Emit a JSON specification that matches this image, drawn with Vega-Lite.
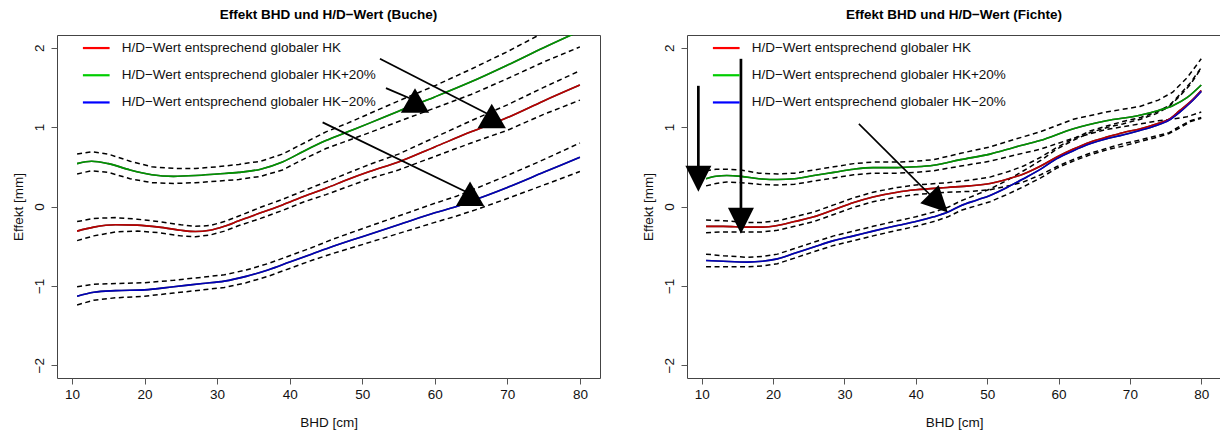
{
  "$schema": "https://vega.github.io/schema/vega-lite/v6.json",
  "padding": {"left": 10, "top": 7, "right": 0, "bottom": 0},
  "spacing": 39,
  "background": "white",
  "datasets": {
    "curves": [
      {"p":"Buche","s":"HK+20%","x":10.7,"fit":0.54,"lo":0.41,"hi":0.66},
      {"p":"Buche","s":"HK+20%","x":12.7,"fit":0.57,"lo":0.45,"hi":0.69},
      {"p":"Buche","s":"HK+20%","x":15,"fit":0.54,"lo":0.43,"hi":0.66},
      {"p":"Buche","s":"HK+20%","x":18,"fit":0.46,"lo":0.35,"hi":0.57},
      {"p":"Buche","s":"HK+20%","x":21,"fit":0.40,"lo":0.30,"hi":0.50},
      {"p":"Buche","s":"HK+20%","x":24,"fit":0.38,"lo":0.29,"hi":0.48},
      {"p":"Buche","s":"HK+20%","x":27,"fit":0.39,"lo":0.30,"hi":0.48},
      {"p":"Buche","s":"HK+20%","x":30,"fit":0.41,"lo":0.32,"hi":0.50},
      {"p":"Buche","s":"HK+20%","x":33,"fit":0.43,"lo":0.34,"hi":0.53},
      {"p":"Buche","s":"HK+20%","x":36,"fit":0.47,"lo":0.38,"hi":0.57},
      {"p":"Buche","s":"HK+20%","x":39,"fit":0.56,"lo":0.46,"hi":0.66},
      {"p":"Buche","s":"HK+20%","x":42,"fit":0.70,"lo":0.60,"hi":0.80},
      {"p":"Buche","s":"HK+20%","x":45,"fit":0.83,"lo":0.73,"hi":0.94},
      {"p":"Buche","s":"HK+20%","x":48,"fit":0.94,"lo":0.83,"hi":1.05},
      {"p":"Buche","s":"HK+20%","x":51,"fit":1.05,"lo":0.93,"hi":1.17},
      {"p":"Buche","s":"HK+20%","x":55,"fit":1.20,"lo":1.07,"hi":1.33},
      {"p":"Buche","s":"HK+20%","x":60,"fit":1.38,"lo":1.24,"hi":1.52},
      {"p":"Buche","s":"HK+20%","x":65,"fit":1.57,"lo":1.41,"hi":1.73},
      {"p":"Buche","s":"HK+20%","x":70,"fit":1.78,"lo":1.61,"hi":1.95},
      {"p":"Buche","s":"HK+20%","x":75,"fit":2.00,"lo":1.82,"hi":2.19},
      {"p":"Buche","s":"HK+20%","x":80,"fit":2.21,"lo":2.01,"hi":2.42},

      {"p":"Buche","s":"HK","x":10.7,"fit":-0.31,"lo":-0.43,"hi":-0.19},
      {"p":"Buche","s":"HK","x":13,"fit":-0.26,"lo":-0.37,"hi":-0.15},
      {"p":"Buche","s":"HK","x":16,"fit":-0.23,"lo":-0.32,"hi":-0.14},
      {"p":"Buche","s":"HK","x":19,"fit":-0.235,"lo":-0.31,"hi":-0.16},
      {"p":"Buche","s":"HK","x":22,"fit":-0.26,"lo":-0.33,"hi":-0.19},
      {"p":"Buche","s":"HK","x":25,"fit":-0.30,"lo":-0.37,"hi":-0.23},
      {"p":"Buche","s":"HK","x":27,"fit":-0.315,"lo":-0.38,"hi":-0.25},
      {"p":"Buche","s":"HK","x":29,"fit":-0.30,"lo":-0.36,"hi":-0.24},
      {"p":"Buche","s":"HK","x":31,"fit":-0.25,"lo":-0.31,"hi":-0.19},
      {"p":"Buche","s":"HK","x":33,"fit":-0.18,"lo":-0.24,"hi":-0.12},
      {"p":"Buche","s":"HK","x":36,"fit":-0.08,"lo":-0.15,"hi":-0.01},
      {"p":"Buche","s":"HK","x":39,"fit":0.02,"lo":-0.05,"hi":0.09},
      {"p":"Buche","s":"HK","x":42,"fit":0.13,"lo":0.06,"hi":0.20},
      {"p":"Buche","s":"HK","x":45,"fit":0.23,"lo":0.15,"hi":0.31},
      {"p":"Buche","s":"HK","x":48,"fit":0.34,"lo":0.25,"hi":0.42},
      {"p":"Buche","s":"HK","x":51,"fit":0.44,"lo":0.35,"hi":0.53},
      {"p":"Buche","s":"HK","x":55,"fit":0.56,"lo":0.46,"hi":0.66},
      {"p":"Buche","s":"HK","x":60,"fit":0.75,"lo":0.63,"hi":0.87},
      {"p":"Buche","s":"HK","x":65,"fit":0.94,"lo":0.80,"hi":1.08},
      {"p":"Buche","s":"HK","x":70,"fit":1.12,"lo":0.96,"hi":1.28},
      {"p":"Buche","s":"HK","x":75,"fit":1.33,"lo":1.16,"hi":1.50},
      {"p":"Buche","s":"HK","x":80,"fit":1.53,"lo":1.34,"hi":1.71},

      {"p":"Buche","s":"HK−20%","x":10.7,"fit":-1.13,"lo":-1.24,"hi":-1.01},
      {"p":"Buche","s":"HK−20%","x":13,"fit":-1.08,"lo":-1.18,"hi":-0.98},
      {"p":"Buche","s":"HK−20%","x":16,"fit":-1.06,"lo":-1.15,"hi":-0.97},
      {"p":"Buche","s":"HK−20%","x":20,"fit":-1.05,"lo":-1.13,"hi":-0.96},
      {"p":"Buche","s":"HK−20%","x":24,"fit":-1.01,"lo":-1.09,"hi":-0.93},
      {"p":"Buche","s":"HK−20%","x":28,"fit":-0.97,"lo":-1.05,"hi":-0.89},
      {"p":"Buche","s":"HK−20%","x":31,"fit":-0.94,"lo":-1.02,"hi":-0.86},
      {"p":"Buche","s":"HK−20%","x":34,"fit":-0.88,"lo":-0.96,"hi":-0.80},
      {"p":"Buche","s":"HK−20%","x":37,"fit":-0.80,"lo":-0.88,"hi":-0.72},
      {"p":"Buche","s":"HK−20%","x":40,"fit":-0.70,"lo":-0.78,"hi":-0.62},
      {"p":"Buche","s":"HK−20%","x":43,"fit":-0.60,"lo":-0.68,"hi":-0.52},
      {"p":"Buche","s":"HK−20%","x":46,"fit":-0.50,"lo":-0.59,"hi":-0.41},
      {"p":"Buche","s":"HK−20%","x":50,"fit":-0.38,"lo":-0.48,"hi":-0.28},
      {"p":"Buche","s":"HK−20%","x":55,"fit":-0.23,"lo":-0.34,"hi":-0.12},
      {"p":"Buche","s":"HK−20%","x":60,"fit":-0.08,"lo":-0.20,"hi":0.04},
      {"p":"Buche","s":"HK−20%","x":63,"fit":0.00,"lo":-0.12,"hi":0.13},
      {"p":"Buche","s":"HK−20%","x":66,"fit":0.10,"lo":-0.03,"hi":0.24},
      {"p":"Buche","s":"HK−20%","x":70,"fit":0.24,"lo":0.10,"hi":0.39},
      {"p":"Buche","s":"HK−20%","x":75,"fit":0.43,"lo":0.27,"hi":0.59},
      {"p":"Buche","s":"HK−20%","x":80,"fit":0.62,"lo":0.44,"hi":0.80},

      {"p":"Fichte","s":"HK+20%","x":10.6,"fit":0.35,"lo":0.26,"hi":0.45},
      {"p":"Fichte","s":"HK+20%","x":12,"fit":0.38,"lo":0.29,"hi":0.47},
      {"p":"Fichte","s":"HK+20%","x":13.5,"fit":0.39,"lo":0.31,"hi":0.47},
      {"p":"Fichte","s":"HK+20%","x":15.5,"fit":0.38,"lo":0.30,"hi":0.46},
      {"p":"Fichte","s":"HK+20%","x":18,"fit":0.35,"lo":0.28,"hi":0.42},
      {"p":"Fichte","s":"HK+20%","x":20.6,"fit":0.34,"lo":0.27,"hi":0.41},
      {"p":"Fichte","s":"HK+20%","x":23,"fit":0.35,"lo":0.28,"hi":0.42},
      {"p":"Fichte","s":"HK+20%","x":25.7,"fit":0.39,"lo":0.32,"hi":0.46},
      {"p":"Fichte","s":"HK+20%","x":28.5,"fit":0.43,"lo":0.36,"hi":0.50},
      {"p":"Fichte","s":"HK+20%","x":31.3,"fit":0.47,"lo":0.40,"hi":0.54},
      {"p":"Fichte","s":"HK+20%","x":34,"fit":0.49,"lo":0.42,"hi":0.56},
      {"p":"Fichte","s":"HK+20%","x":37.4,"fit":0.49,"lo":0.42,"hi":0.56},
      {"p":"Fichte","s":"HK+20%","x":40,"fit":0.50,"lo":0.43,"hi":0.57},
      {"p":"Fichte","s":"HK+20%","x":42.5,"fit":0.52,"lo":0.45,"hi":0.59},
      {"p":"Fichte","s":"HK+20%","x":46.3,"fit":0.59,"lo":0.51,"hi":0.67},
      {"p":"Fichte","s":"HK+20%","x":50.4,"fit":0.66,"lo":0.57,"hi":0.75},
      {"p":"Fichte","s":"HK+20%","x":54,"fit":0.75,"lo":0.65,"hi":0.85},
      {"p":"Fichte","s":"HK+20%","x":57.4,"fit":0.83,"lo":0.72,"hi":0.94},
      {"p":"Fichte","s":"HK+20%","x":62.1,"fit":0.98,"lo":0.86,"hi":1.10},
      {"p":"Fichte","s":"HK+20%","x":66.7,"fit":1.08,"lo":0.97,"hi":1.19},
      {"p":"Fichte","s":"HK+20%","x":71.4,"fit":1.15,"lo":1.04,"hi":1.26},
      {"p":"Fichte","s":"HK+20%","x":74,"fit":1.21,"lo":1.08,"hi":1.34},
      {"p":"Fichte","s":"HK+20%","x":76,"fit":1.27,"lo":1.10,"hi":1.44},
      {"p":"Fichte","s":"HK+20%","x":78,"fit":1.37,"lo":1.13,"hi":1.62},
      {"p":"Fichte","s":"HK+20%","x":80,"fit":1.53,"lo":1.19,"hi":1.86},

      {"p":"Fichte","s":"HK","x":10.6,"fit":-0.25,"lo":-0.33,"hi":-0.17},
      {"p":"Fichte","s":"HK","x":13,"fit":-0.25,"lo":-0.32,"hi":-0.18},
      {"p":"Fichte","s":"HK","x":16.4,"fit":-0.26,"lo":-0.32,"hi":-0.20},
      {"p":"Fichte","s":"HK","x":18.5,"fit":-0.26,"lo":-0.32,"hi":-0.20},
      {"p":"Fichte","s":"HK","x":20.6,"fit":-0.24,"lo":-0.30,"hi":-0.18},
      {"p":"Fichte","s":"HK","x":23,"fit":-0.19,"lo":-0.25,"hi":-0.13},
      {"p":"Fichte","s":"HK","x":25.7,"fit":-0.13,"lo":-0.19,"hi":-0.07},
      {"p":"Fichte","s":"HK","x":28.5,"fit":-0.04,"lo":-0.10,"hi":0.02},
      {"p":"Fichte","s":"HK","x":31.3,"fit":0.05,"lo":-0.01,"hi":0.11},
      {"p":"Fichte","s":"HK","x":34,"fit":0.12,"lo":0.06,"hi":0.18},
      {"p":"Fichte","s":"HK","x":37.4,"fit":0.18,"lo":0.12,"hi":0.24},
      {"p":"Fichte","s":"HK","x":40,"fit":0.21,"lo":0.15,"hi":0.27},
      {"p":"Fichte","s":"HK","x":44.4,"fit":0.24,"lo":0.18,"hi":0.30},
      {"p":"Fichte","s":"HK","x":47.5,"fit":0.26,"lo":0.19,"hi":0.33},
      {"p":"Fichte","s":"HK","x":50.4,"fit":0.29,"lo":0.21,"hi":0.37},
      {"p":"Fichte","s":"HK","x":53,"fit":0.35,"lo":0.26,"hi":0.44},
      {"p":"Fichte","s":"HK","x":55.1,"fit":0.41,"lo":0.31,"hi":0.51},
      {"p":"Fichte","s":"HK","x":57.5,"fit":0.51,"lo":0.40,"hi":0.62},
      {"p":"Fichte","s":"HK","x":59.7,"fit":0.62,"lo":0.50,"hi":0.74},
      {"p":"Fichte","s":"HK","x":62,"fit":0.72,"lo":0.59,"hi":0.85},
      {"p":"Fichte","s":"HK","x":64.4,"fit":0.81,"lo":0.67,"hi":0.95},
      {"p":"Fichte","s":"HK","x":67,"fit":0.88,"lo":0.74,"hi":1.02},
      {"p":"Fichte","s":"HK","x":69,"fit":0.93,"lo":0.79,"hi":1.07},
      {"p":"Fichte","s":"HK","x":71.5,"fit":0.98,"lo":0.84,"hi":1.12},
      {"p":"Fichte","s":"HK","x":73.7,"fit":1.04,"lo":0.89,"hi":1.19},
      {"p":"Fichte","s":"HK","x":75.5,"fit":1.10,"lo":0.93,"hi":1.27},
      {"p":"Fichte","s":"HK","x":77,"fit":1.21,"lo":1.01,"hi":1.41},
      {"p":"Fichte","s":"HK","x":78.5,"fit":1.32,"lo":1.08,"hi":1.56},
      {"p":"Fichte","s":"HK","x":80,"fit":1.46,"lo":1.12,"hi":1.75},

      {"p":"Fichte","s":"HK−20%","x":10.6,"fit":-0.68,"lo":-0.76,"hi":-0.60},
      {"p":"Fichte","s":"HK−20%","x":13,"fit":-0.69,"lo":-0.76,"hi":-0.62},
      {"p":"Fichte","s":"HK−20%","x":16.4,"fit":-0.70,"lo":-0.76,"hi":-0.64},
      {"p":"Fichte","s":"HK−20%","x":18.5,"fit":-0.69,"lo":-0.75,"hi":-0.63},
      {"p":"Fichte","s":"HK−20%","x":20.6,"fit":-0.66,"lo":-0.72,"hi":-0.60},
      {"p":"Fichte","s":"HK−20%","x":23,"fit":-0.59,"lo":-0.65,"hi":-0.53},
      {"p":"Fichte","s":"HK−20%","x":25.7,"fit":-0.51,"lo":-0.57,"hi":-0.45},
      {"p":"Fichte","s":"HK−20%","x":28.5,"fit":-0.43,"lo":-0.49,"hi":-0.37},
      {"p":"Fichte","s":"HK−20%","x":31.3,"fit":-0.37,"lo":-0.43,"hi":-0.31},
      {"p":"Fichte","s":"HK−20%","x":34,"fit":-0.31,"lo":-0.37,"hi":-0.25},
      {"p":"Fichte","s":"HK−20%","x":37.4,"fit":-0.24,"lo":-0.30,"hi":-0.18},
      {"p":"Fichte","s":"HK−20%","x":40,"fit":-0.19,"lo":-0.25,"hi":-0.13},
      {"p":"Fichte","s":"HK−20%","x":42.5,"fit":-0.13,"lo":-0.19,"hi":-0.07},
      {"p":"Fichte","s":"HK−20%","x":44.5,"fit":-0.07,"lo":-0.13,"hi":-0.01},
      {"p":"Fichte","s":"HK−20%","x":46.3,"fit":0.01,"lo":-0.05,"hi":0.07},
      {"p":"Fichte","s":"HK−20%","x":48.5,"fit":0.08,"lo":0.01,"hi":0.15},
      {"p":"Fichte","s":"HK−20%","x":50.4,"fit":0.14,"lo":0.06,"hi":0.22},
      {"p":"Fichte","s":"HK−20%","x":53,"fit":0.25,"lo":0.16,"hi":0.34},
      {"p":"Fichte","s":"HK−20%","x":55.1,"fit":0.35,"lo":0.25,"hi":0.45},
      {"p":"Fichte","s":"HK−20%","x":57.5,"fit":0.47,"lo":0.36,"hi":0.58},
      {"p":"Fichte","s":"HK−20%","x":59.7,"fit":0.60,"lo":0.48,"hi":0.72},
      {"p":"Fichte","s":"HK−20%","x":62,"fit":0.70,"lo":0.57,"hi":0.83},
      {"p":"Fichte","s":"HK−20%","x":64.4,"fit":0.79,"lo":0.65,"hi":0.93},
      {"p":"Fichte","s":"HK−20%","x":67,"fit":0.86,"lo":0.72,"hi":1.00},
      {"p":"Fichte","s":"HK−20%","x":69,"fit":0.90,"lo":0.76,"hi":1.04},
      {"p":"Fichte","s":"HK−20%","x":71.5,"fit":0.96,"lo":0.82,"hi":1.10},
      {"p":"Fichte","s":"HK−20%","x":73.7,"fit":1.02,"lo":0.87,"hi":1.17},
      {"p":"Fichte","s":"HK−20%","x":75.5,"fit":1.09,"lo":0.92,"hi":1.26},
      {"p":"Fichte","s":"HK−20%","x":77,"fit":1.19,"lo":0.99,"hi":1.39},
      {"p":"Fichte","s":"HK−20%","x":78.5,"fit":1.31,"lo":1.07,"hi":1.54},
      {"p":"Fichte","s":"HK−20%","x":80,"fit":1.45,"lo":1.11,"hi":1.74}
    ],
    "arrows": [
      {"p":"Buche","id":1,"x":52.44,"y":1.86,"x2":67.85,"y2":1.14},
      {"p":"Buche","id":2,"x":53.27,"y":1.49,"x2":57.27,"y2":1.335},
      {"p":"Buche","id":3,"x":44.54,"y":1.06,"x2":64.86,"y2":0.16},
      {"p":"Fichte","id":1,"x":9.52,"y":1.52,"x2":9.52,"y2":0.35},
      {"p":"Fichte","id":2,"x":15.49,"y":1.86,"x2":15.49,"y2":-0.18},
      {"p":"Fichte","id":3,"x":32.02,"y":1.04,"x2":43.2,"y2":0.04}
    ]
  },
  "hconcat": [
    {
      "width": 543,
      "height": 343,
      "title": {"text": "Effekt BHD und H/D−Wert (Buche)"},
      "layer": [
        {
          "data": {"name": "curves"},
          "transform": [{"filter": "datum.p == 'Buche'"}],
          "mark": {"type": "line", "color": "black", "strokeWidth": 1.5, "strokeDash": [5, 3.5], "clip": true},
          "encoding": {
            "x": {"field": "x", "type": "quantitative", "scale": {"domain": [7.93, 82.77], "nice": false, "zero": false},
                  "axis": {"values": [10, 20, 30, 40, 50, 60, 70, 80], "title": "BHD [cm]", "labelPadding": 3, "titlePadding": 15, "labelOverlap": false, "labelFlush": false}},
            "y": {"field": "hi", "type": "quantitative", "scale": {"domain": [-2.16, 2.16], "nice": false, "zero": false},
                  "axis": {"values": [-2, -1, 0, 1, 2], "format": "d", "title": "Effekt [mm]", "labelAngle": 270, "labelAlign": "center", "labelBaseline": "alphabetic", "labelPadding": 8, "titlePadding": 7, "labelOverlap": false, "labelFlush": false}},
            "detail": {"field": "s"}
          }
        },
        {
          "data": {"name": "curves"},
          "transform": [{"filter": "datum.p == 'Buche'"}],
          "mark": {"type": "line", "color": "black", "strokeWidth": 1.5, "strokeDash": [5, 3.5], "clip": true},
          "encoding": {
            "x": {"field": "x", "type": "quantitative", "scale": {"domain": [7.93, 82.77], "nice": false, "zero": false}},
            "y": {"field": "lo", "type": "quantitative", "scale": {"domain": [-2.16, 2.16], "nice": false, "zero": false}},
            "detail": {"field": "s"}
          }
        },
        {
          "mark": {"type": "rule", "color": "#888888", "strokeWidth": 1, "strokeDash": [1, 2.5]},
          "encoding": {"y": {"datum": 0, "type": "quantitative", "scale": {"domain": [-2.16, 2.16], "nice": false, "zero": false}}}
        },
        {
          "data": {"name": "curves"},
          "transform": [{"filter": "datum.p == 'Buche'"}],
          "mark": {"type": "line", "color": "black", "strokeWidth": 1.6, "clip": true, "interpolate": "monotone"},
          "encoding": {
            "x": {"field": "x", "type": "quantitative", "scale": {"domain": [7.93, 82.77], "nice": false, "zero": false}},
            "y": {"field": "fit", "type": "quantitative", "scale": {"domain": [-2.16, 2.16], "nice": false, "zero": false}},
            "detail": {"field": "s"}
          }
        },
        {
          "data": {"name": "curves"},
          "transform": [{"filter": "datum.p == 'Buche'"}],
          "mark": {"type": "line", "strokeWidth": 1.6, "opacity": 0.72, "clip": true, "interpolate": "monotone"},
          "encoding": {
            "x": {"field": "x", "type": "quantitative", "scale": {"domain": [7.93, 82.77], "nice": false, "zero": false}},
            "y": {"field": "fit", "type": "quantitative", "scale": {"domain": [-2.16, 2.16], "nice": false, "zero": false}},
            "color": {"field": "s", "type": "nominal",
                      "scale": {"domain": ["HK", "HK+20%", "HK−20%"], "range": ["#FF0000", "#00CD00", "#0000FF"]},
                      "legend": {"orient": "none", "legendX": 32.5, "legendY": 6.3, "title": null, "padding": 0,
                                 "symbolType": "M-2.67,0H2.67", "symbolSize": 100, "symbolStrokeWidth": 2.2, "symbolOpacity": 1,
                                 "labelFontSize": 13.5, "labelFont": "Liberation Sans", "labelColor": "#111111", "labelOffset": 18.7,
                                 "rowPadding": 12.2, "labelLimit": 400,
                                 "labelExpr": "'H/D−Wert entsprechend globaler ' + datum.label"}}
          }
        },
        {
          "data": {"name": "arrows"},
          "transform": [{"filter": "datum.p == 'Buche'"}],
          "mark": {"type": "rule", "color": "black", "strokeWidth": 1.8},
          "encoding": {
            "x": {"field": "x", "type": "quantitative", "scale": {"domain": [7.93, 82.77], "nice": false, "zero": false}},
            "y": {"field": "y", "type": "quantitative", "scale": {"domain": [-2.16, 2.16], "nice": false, "zero": false}},
            "x2": {"field": "x2"},
            "y2": {"field": "y2"}
          }
        },
        {
          "data": {"name": "arrows"},
          "transform": [{"filter": "datum.p == 'Buche'"}],
          "mark": {"type": "point", "shape": "triangle-up", "filled": true, "color": "black", "opacity": 1, "size": 800},
          "encoding": {
            "x": {"field": "x2", "type": "quantitative", "scale": {"domain": [7.93, 82.77], "nice": false, "zero": false}},
            "y": {"field": "y2", "type": "quantitative", "scale": {"domain": [-2.16, 2.16], "nice": false, "zero": false}}
          }
        }
      ]
    },
    {
      "width": 534,
      "height": 343,
      "title": {"text": "Effekt BHD und H/D−Wert (Fichte)"},
      "layer": [
        {
          "data": {"name": "curves"},
          "transform": [{"filter": "datum.p == 'Fichte'"}],
          "mark": {"type": "line", "color": "black", "strokeWidth": 1.5, "strokeDash": [5, 3.5], "clip": true},
          "encoding": {
            "x": {"field": "x", "type": "quantitative", "scale": {"domain": [7.93, 82.77], "nice": false, "zero": false},
                  "axis": {"values": [10, 20, 30, 40, 50, 60, 70, 80], "title": "BHD [cm]", "labelPadding": 3, "titlePadding": 15, "labelOverlap": false, "labelFlush": false}},
            "y": {"field": "hi", "type": "quantitative", "scale": {"domain": [-2.16, 2.16], "nice": false, "zero": false},
                  "axis": {"values": [-2, -1, 0, 1, 2], "format": "d", "title": "Effekt [mm]", "labelAngle": 270, "labelAlign": "center", "labelBaseline": "alphabetic", "labelPadding": 8, "titlePadding": 7, "labelOverlap": false, "labelFlush": false}},
            "detail": {"field": "s"}
          }
        },
        {
          "data": {"name": "curves"},
          "transform": [{"filter": "datum.p == 'Fichte'"}],
          "mark": {"type": "line", "color": "black", "strokeWidth": 1.5, "strokeDash": [5, 3.5], "clip": true},
          "encoding": {
            "x": {"field": "x", "type": "quantitative", "scale": {"domain": [7.93, 82.77], "nice": false, "zero": false}},
            "y": {"field": "lo", "type": "quantitative", "scale": {"domain": [-2.16, 2.16], "nice": false, "zero": false}},
            "detail": {"field": "s"}
          }
        },
        {
          "mark": {"type": "rule", "color": "#888888", "strokeWidth": 1, "strokeDash": [1, 2.5]},
          "encoding": {"y": {"datum": 0, "type": "quantitative", "scale": {"domain": [-2.16, 2.16], "nice": false, "zero": false}}}
        },
        {
          "data": {"name": "curves"},
          "transform": [{"filter": "datum.p == 'Fichte'"}],
          "mark": {"type": "line", "color": "black", "strokeWidth": 1.6, "clip": true, "interpolate": "monotone"},
          "encoding": {
            "x": {"field": "x", "type": "quantitative", "scale": {"domain": [7.93, 82.77], "nice": false, "zero": false}},
            "y": {"field": "fit", "type": "quantitative", "scale": {"domain": [-2.16, 2.16], "nice": false, "zero": false}},
            "detail": {"field": "s"}
          }
        },
        {
          "data": {"name": "curves"},
          "transform": [{"filter": "datum.p == 'Fichte'"}],
          "mark": {"type": "line", "strokeWidth": 1.6, "opacity": 0.72, "clip": true, "interpolate": "monotone"},
          "encoding": {
            "x": {"field": "x", "type": "quantitative", "scale": {"domain": [7.93, 82.77], "nice": false, "zero": false}},
            "y": {"field": "fit", "type": "quantitative", "scale": {"domain": [-2.16, 2.16], "nice": false, "zero": false}},
            "color": {"field": "s", "type": "nominal",
                      "scale": {"domain": ["HK", "HK+20%", "HK−20%"], "range": ["#FF0000", "#00CD00", "#0000FF"]},
                      "legend": {"orient": "none", "legendX": 32.5, "legendY": 6.3, "title": null, "padding": 0,
                                 "symbolType": "M-2.67,0H2.67", "symbolSize": 100, "symbolStrokeWidth": 2.2, "symbolOpacity": 1,
                                 "labelFontSize": 13.5, "labelFont": "Liberation Sans", "labelColor": "#111111", "labelOffset": 18.7,
                                 "rowPadding": 12.2, "labelLimit": 400,
                                 "labelExpr": "'H/D−Wert entsprechend globaler ' + datum.label"}}
          }
        },
        {
          "data": {"name": "arrows"},
          "transform": [{"filter": "datum.p == 'Fichte' && datum.id < 3"}],
          "mark": {"type": "rule", "color": "black", "strokeWidth": 2.7},
          "encoding": {
            "x": {"field": "x", "type": "quantitative", "scale": {"domain": [7.93, 82.77], "nice": false, "zero": false}},
            "y": {"field": "y", "type": "quantitative", "scale": {"domain": [-2.16, 2.16], "nice": false, "zero": false}},
            "x2": {"field": "x2"},
            "y2": {"field": "y2"}
          }
        },
        {
          "data": {"name": "arrows"},
          "transform": [{"filter": "datum.p == 'Fichte' && datum.id == 3"}],
          "mark": {"type": "rule", "color": "black", "strokeWidth": 1.6},
          "encoding": {
            "x": {"field": "x", "type": "quantitative", "scale": {"domain": [7.93, 82.77], "nice": false, "zero": false}},
            "y": {"field": "y", "type": "quantitative", "scale": {"domain": [-2.16, 2.16], "nice": false, "zero": false}},
            "x2": {"field": "x2"},
            "y2": {"field": "y2"}
          }
        },
        {
          "data": {"name": "arrows"},
          "transform": [{"filter": "datum.p == 'Fichte' && datum.id < 3"}],
          "mark": {"type": "point", "shape": "M-1,-1L1,-1L0,1Z", "filled": true, "color": "black", "opacity": 1, "size": 676},
          "encoding": {
            "x": {"field": "x2", "type": "quantitative", "scale": {"domain": [7.93, 82.77], "nice": false, "zero": false}},
            "y": {"field": "y2", "type": "quantitative", "scale": {"domain": [-2.16, 2.16], "nice": false, "zero": false}}
          }
        },
        {
          "data": {"name": "arrows"},
          "transform": [{"filter": "datum.p == 'Fichte' && datum.id == 3"}],
          "mark": {"type": "point", "shape": "M-1,-1L1,-1L0,1Z", "filled": true, "color": "black", "opacity": 1, "size": 676, "angle": 315},
          "encoding": {
            "x": {"field": "x2", "type": "quantitative", "scale": {"domain": [7.93, 82.77], "nice": false, "zero": false}},
            "y": {"field": "y2", "type": "quantitative", "scale": {"domain": [-2.16, 2.16], "nice": false, "zero": false}}
          }
        }
      ]
    }
  ],
  "resolve": {"scale": {"color": "independent"}, "legend": {"color": "independent"}},
  "config": {
    "font": "Liberation Sans",
    "view": {"stroke": "#444444", "strokeWidth": 1},
    "axis": {"domain": false, "grid": false, "tickColor": "#555555", "tickSize": 6, "tickWidth": 1,
             "labelFontSize": 13.5, "labelColor": "#111111", "labelFont": "Liberation Sans",
             "titleFontSize": 13.5, "titleFontWeight": "normal", "titleColor": "#111111", "titleFont": "Liberation Sans"},
    "title": {"fontSize": 13.5, "font": "Liberation Sans", "fontWeight": "bold", "color": "#000000", "offset": 14, "anchor": "middle"}
  }
}
